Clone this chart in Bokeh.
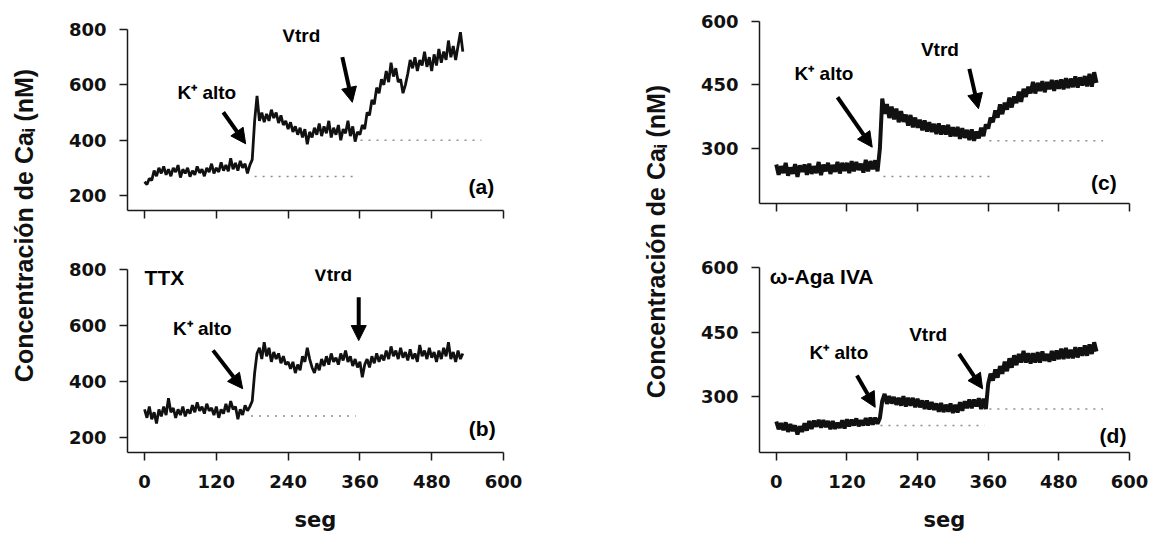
from bokeh.plotting import figure
from bokeh.layouts import row, column
from bokeh.models import Range1d, FixedTicker, Label, Arrow, NormalHead
from bokeh.embed import file_html
from bokeh.resources import INLINE

# ---------------- data ----------------
STEP = 4  # seconds between samples
x_ticks = [0, 120, 240, 360, 480, 600]
y_ticks_left = [200, 400, 600, 800]
y_ticks_right = [300, 450, 600]
y_label = "Concentración de Caᵢ (nM)"
x_label = "seg"

# (a) control
ca_a = [250, 240, 262, 255, 290, 270, 300, 280, 305, 275,
        295, 270, 300, 285, 310, 265, 295, 280, 300, 268,
        290, 275, 305, 282, 295, 270, 300, 285, 315, 280,
        300, 285, 320, 290, 310, 288, 335, 295, 318, 290,
        325, 300, 315, 280, 310, 330, 470, 560, 470, 500,
        465, 495, 470, 510, 480, 500, 462, 490, 455, 470,
        440, 465, 430, 450, 420, 445, 410, 440, 385, 430,
        410, 445, 420, 460, 415, 450, 425, 470, 410, 445,
        420, 455, 400, 440, 425, 470, 415, 450, 395, 430,
        420, 455, 440, 500, 490, 545, 530, 590, 570, 620,
        600, 650, 610, 680, 630, 660, 610, 620, 570, 600,
        640, 690, 660, 700, 650, 690, 670, 720, 665, 700,
        650, 710, 670, 730, 680, 720, 690, 760, 700, 740,
        690, 740, 790, 720]
# (b) TTX
ca_b = [300, 270, 310, 265, 290, 250, 300, 275, 310, 280,
        340, 290, 305, 270, 300, 280, 310, 275, 300, 285,
        315, 290, 325, 295, 310, 285, 320, 295, 305, 280,
        310, 270, 300, 285, 320, 290, 330, 300, 310, 265,
        300, 280, 315, 295, 310, 330, 430, 500, 520, 480,
        540, 490, 520, 470, 505, 480, 500, 465, 490, 460,
        470, 445, 470, 430, 460, 440, 490, 470, 520, 480,
        450, 430, 465, 440, 480, 455, 490, 460, 500, 470,
        485, 460, 500, 475, 510, 470, 490, 455, 480, 450,
        470, 415, 460, 480, 450, 490, 465, 500, 470, 495,
        475, 510, 480, 525, 490, 510, 480, 520, 485, 505,
        475, 515, 480, 500, 470, 530, 490, 510, 480, 520,
        485, 505, 470, 510, 480, 520, 490, 540, 480, 505,
        470, 510, 480, 500]
# (c) control
ca_c = [262, 238, 258, 242, 266, 236, 255, 240, 263, 233,
        260, 245, 262, 238, 264, 240, 258, 242, 268, 237,
        262, 246, 266, 240, 261, 245, 268, 241, 266, 247,
        266, 242, 270, 246, 268, 249, 264, 243, 273, 246,
        270, 251, 272, 246, 300, 418, 382, 405, 372, 399,
        369, 394, 362, 388, 363, 380, 354, 379, 350, 373,
        349, 368, 343, 366, 340, 362, 339, 358, 334, 359,
        333, 354, 333, 356, 328, 350, 329, 351, 323, 348,
        325, 344, 320, 345, 318, 340, 324, 349, 329, 357,
        347, 373, 362, 390, 373, 404, 381, 408, 392, 420,
        397, 423, 407, 434, 410, 441, 422, 446, 430, 457,
        430, 455, 436, 459, 433, 457, 440, 462, 436, 461,
        441, 463, 440, 466, 443, 465, 445, 470, 444, 468,
        449, 471, 447, 476, 446, 480, 455]
# (d) omega-Aga IVA
ca_d = [242, 224, 238, 222, 240, 218, 236, 220, 233, 212,
        231, 218, 238, 221, 243, 225, 244, 230, 246, 228,
        245, 229, 243, 224, 243, 225, 239, 227, 245, 226,
        247, 231, 246, 233, 249, 231, 245, 233, 250, 233,
        251, 235, 251, 237, 250, 290, 306, 283, 301, 284,
        299, 281, 297, 279, 301, 277, 297, 279, 297, 275,
        295, 275, 291, 271, 291, 270, 287, 269, 284, 265,
        285, 264, 281, 265, 284, 262, 281, 263, 287, 267,
        289, 273, 293, 273, 293, 277, 296, 271, 295, 271,
        330, 353, 337, 363, 344, 371, 353, 381, 359, 389,
        367, 396, 373, 399, 379, 406, 379, 401, 377, 401,
        379, 403, 379, 405, 383, 399, 381, 406, 384, 407,
        387, 411, 387, 413, 389, 409, 389, 415, 391, 414,
        395, 419, 395, 421, 399, 426, 405]

# dotted baselines: [x0, x1], level
base_a = [([184, 358], 269), ([361, 563], 400)]
base_b = [([178, 353], 276)]
base_c = [([182, 370], 234), ([362, 555], 318)]
base_d = [([177, 354], 233), ([362, 555], 271)]

# ---------------- helpers ----------------
FONT_TICK = "DejaVu Sans"
FONT_TXT = "Liberation Sans"
H = 537
TOP_H = 240


def times(vals):
    return [i * STEP for i in range(len(vals))]


def panel(w, h, mbl, mbr, mbt, mbb, yr, yticks, xlabels):
    p = figure(width=w, height=h, x_range=Range1d(-28.5, 600), y_range=Range1d(*yr),
               output_backend="svg", toolbar_location=None,
               min_border_left=mbl, min_border_right=mbr,
               min_border_top=mbt, min_border_bottom=mbb)
    p.grid.visible = False
    p.outline_line_color = None
    p.border_fill_color = "white"
    p.background_fill_color = "white"
    for ax in (p.xaxis[0], p.yaxis[0]):
        ax.axis_line_color = "#1a1a1a"
        ax.axis_line_width = 1.5
        ax.major_tick_line_color = "#1a1a1a"
        ax.major_tick_line_width = 1.5
        ax.major_tick_in = 0
        ax.major_tick_out = 8
        ax.minor_tick_line_color = None
        ax.major_label_text_font = FONT_TICK
        ax.major_label_text_font_style = "bold"
        ax.major_label_text_font_size = "18px"
        ax.major_label_text_color = "#111111"
    p.xaxis.ticker = FixedTicker(ticks=x_ticks)
    p.yaxis.ticker = FixedTicker(ticks=yticks)
    p.yaxis.major_label_standoff = 13
    p.xaxis.major_label_standoff = 14
    if xlabels:
        p.xaxis.axis_label = x_label
        p.xaxis.axis_label_text_font = FONT_TICK
        p.xaxis.axis_label_text_font_style = "bold"
        p.xaxis.axis_label_text_font_size = "21px"
        p.xaxis.axis_label_text_color = "#111111"
        p.xaxis.axis_label_standoff = 17
    else:
        p.xaxis.major_label_overrides = {t: "" for t in x_ticks}
    return p


def trace(p, vals, base, lw):
    for xs, lev in base:
        p.line(xs, [lev, lev], line_color="#8c8c8c", line_width=1.5, line_dash="2 6")
    p.line(times(vals), vals, line_color="#111111", line_width=lw)


def txt(p, x, y, s, size, align="center"):
    p.add_layout(Label(x=x, y=y, text=s, text_font=FONT_TXT, text_font_size=f"{size}px",
                       text_font_style="bold", text_align=align, text_baseline="middle",
                       text_color="black"))


def arrow(p, x0, y0, x1, y1):
    p.add_layout(Arrow(end=NormalHead(size=15, fill_color="black", line_color="black"),
                       x_start=x0, y_start=y0, x_end=x1, y_end=y1,
                       line_width=4, line_color="black"))


def label_fig(w, x, y):
    f = figure(width=w, height=H, x_range=Range1d(0, w), y_range=Range1d(0, H),
               x_axis_type=None, y_axis_type=None, output_backend="svg",
               toolbar_location=None, min_border=0)
    f.outline_line_color = None
    f.grid.visible = False
    f.add_layout(Label(x=x, y=y, text=y_label, angle=90, angle_units="deg",
                       text_font=FONT_TXT, text_font_style="bold", text_font_size="25px",
                       text_align="center", text_baseline="middle", text_color="#111111"))
    return f


# ---------------- panels ----------------
pa = panel(585, TOP_H, 79, 130, 29, 30, (146, 800), y_ticks_left, False)
trace(pa, ca_a, base_a, 2.8)
txt(pa, 262, 778, "Vtrd", 19)
txt(pa, 104, 572, "K⁺ alto", 19)
arrow(pa, 131.6, 501, 169, 387)
arrow(pa, 330.6, 700, 347.3, 537)
txt(pa, 563, 232, "(a)", 21)

pb = panel(585, H - TOP_H, 79, 130, 29, H - 452, (146, 800), y_ticks_left, True)
trace(pb, ca_b, base_b, 2.8)
txt(pb, 0, 770, "TTX", 21, "left")
txt(pb, 315, 782, "Vtrd", 19)
txt(pb, 96.5, 589, "K⁺ alto", 19)
arrow(pb, 114.5, 511, 164, 374)
arrow(pb, 358, 701, 358, 546)
txt(pb, 564.5, 232, "(b)", 21)

pc = panel(479, TOP_H, 86, 23, 21, 37, (170, 600), y_ticks_right, False)
trace(pc, ca_c, base_c, 4)
txt(pc, 278, 534, "Vtrd", 19)
txt(pc, 81, 478, "K⁺ alto", 19)
arrow(pc, 104, 421, 163, 303)
arrow(pc, 328, 488, 343.5, 394)
txt(pc, 556.5, 220, "(c)", 21)

pd = panel(479, H - TOP_H, 86, 23, 27, H - 452, (170, 600), y_ticks_right, True)
trace(pd, ca_d, base_d, 4)
txt(pd, -11, 580, "ω-Aga IVA", 21, "left")
txt(pd, 258, 445, "Vtrd", 19)
txt(pd, 106.4, 403.5, "K⁺ alto", 19)
arrow(pd, 137, 349, 168, 275)
arrow(pd, 310.5, 399, 350.5, 318)
txt(pd, 572, 209, "(d)", 21)

lab_l = label_fig(48, 23, H - 225)
lab_r = label_fig(40, 22, H - 241)

layout = row(lab_l, column(pa, pb), lab_r, column(pc, pd))
open("out.html", "w").write(file_html(layout, INLINE))
